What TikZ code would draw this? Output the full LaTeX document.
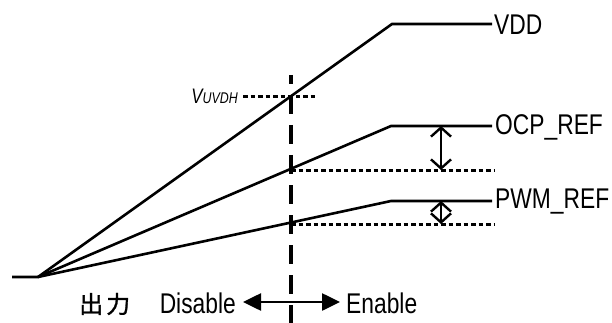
\documentclass[tikz,border=0pt]{standalone}
\usepackage{fontspec}
\usepackage{graphicx}
\setmainfont{Liberation Sans}
\newfontfamily\cjk[FakeBold=1.2]{Noto Sans CJK JP}
\usetikzlibrary{arrows.meta}
\newcommand{\nar}[1]{\scalebox{0.8}[1]{#1}}
\tikzset{
  wire/.style={line width=2.6pt, line join=miter},
  dotline/.style={line width=3pt, dash pattern=on 4.5pt off 3pt},
  vdash/.style={line width=3.2pt, dash pattern=on 19pt off 11pt, dash phase=10pt},
  lab/.style={inner sep=0pt, font=\fontsize{28.5}{28.5}\selectfont},
  barb/.style={line width=2.4pt, {Straight Barb[length=9pt,width=20pt,line width=2.4pt]}-{Straight Barb[length=9pt,width=20pt,line width=2.4pt]}},
  tri/.style={line width=2.6pt, {Triangle[length=18pt,width=17pt]}-{Triangle[length=18pt,width=17pt]}}
}
\begin{document}
\begin{tikzpicture}[x=1pt,y=-1pt]
\useasboundingbox (0,0) rectangle (612,323);
% coordinates
\coordinate (L) at (12,277);
\coordinate (O) at (38,277);
\coordinate (vddK) at (392,24);
\coordinate (vddE) at (492,24);
\coordinate (ocpK) at (391,126);
\coordinate (ocpE) at (492,126);
\coordinate (pwmK) at (391,201);
\coordinate (pwmE) at (492,201);
\coordinate (dT) at (291,75);
\coordinate (dB) at (291,323);
\coordinate (u1) at (243,97);
\coordinate (u2) at (318,97);
\coordinate (o1) at (291,170);
\coordinate (o2) at (494,170);
\coordinate (p1) at (291,224);
\coordinate (p2) at (494,224);
\coordinate (oa1) at (441,126);
\coordinate (oa2) at (441,170);
\coordinate (pa1) at (441,201);
\coordinate (pa2) at (441,224);
\coordinate (b1) at (243,302);
\coordinate (b2) at (340,302);
% curves
\draw[wire] (L) -- (O) -- (vddK) -- (vddE);
\draw[wire] (O) -- (ocpK) -- (ocpE);
\draw[wire] (O) -- (pwmK) -- (pwmE);
% dotted references
\draw[dotline] (u1) -- (u2);
\draw[dotline] (o1) -- (o2);
\draw[dotline] (p1) -- (p2);
% vertical dashed line
\draw[vdash] (dT) -- (dB);
% arrows
\draw[barb] (oa1) -- (oa2);
\draw[barb] (pa1) -- (pa2);
\draw[tri] (b1) -- (b2);
% labels
\node[lab, anchor=west] (vdd) at (494,25) {\nar{VDD}};
\node[lab, anchor=west] (ocp) at (495,127) {\nar{OCP\_REF}};
\node[lab, anchor=west] (pwm) at (495,202) {\nar{PWM\_REF}};
\node[inner sep=0pt, anchor=base east] (uv) at (238,104) {\itshape\scalebox{0.8}[1]{\fontsize{21}{22}\selectfont V\fontsize{15.5}{16}\selectfont UVDH}};
\node[lab, anchor=east] (dis) at (236,303) {\nar{Disable}};
\node[lab, anchor=west] (en) at (346,303) {\nar{Enable}};
\node[inner sep=0pt, anchor=west, font=\cjk\fontsize{24}{24}\selectfont] (out) at (79,304) {出\hspace{3pt}力};
\end{tikzpicture}
\end{document}
